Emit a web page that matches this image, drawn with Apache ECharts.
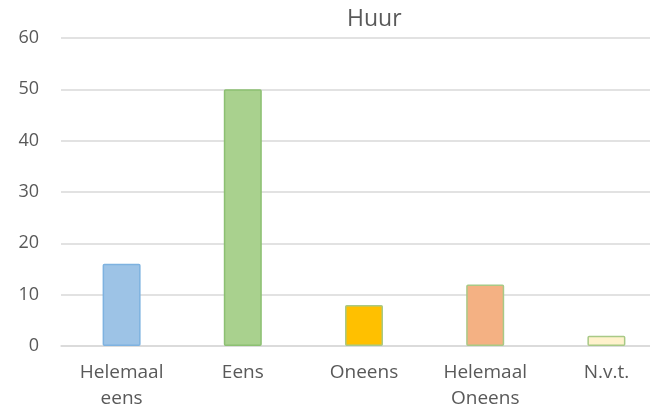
<!DOCTYPE html>
<html><head><meta charset="utf-8">
<script src="https://cdn.jsdelivr.net/npm/echarts@6/dist/echarts.min.js"></script>
<style>html,body{margin:0;padding:0;background:#fff}#c{width:650px;height:417px}</style>
</head><body><div id="c"></div>
<script>
const categories = ['Helemaal\neens', 'Eens', 'Oneens', 'Helemaal\nOneens', 'N.v.t.'];
const values = [16, 50, 8, 12, 2];
const fillColors = ['#9DC3E6', '#A9D18E', '#FFC000', '#F4B183', '#FFF2CC'];
const borderColors = ['#7EB2E0', '#8CC072', '#A8C986', '#A8C986', '#A8C986'];
const yTicks = {min: 0, max: 60, interval: 10};
const FONT = 'Open Sans';

const chart = echarts.init(document.getElementById('c'), null, {renderer: 'canvas'});
chart.setOption({
  animation: false,
  title: {
    text: 'Huur', left: 342, top: 3,
    textStyle: {fontFamily: FONT, fontSize: 23, fontWeight: 'normal', color: '#595959'}
  },
  grid: {left: 61, width: 606, top: 38, bottom: 71, outerBoundsMode: 'none', containLabel: false},
  xAxis: {
    type: 'category', data: categories,
    axisLine: {lineStyle: {color: '#d9d9d9', width: 1.5}},
    axisTick: {show: false},
    axisLabel: {fontFamily: FONT, fontSize: 19, color: '#595959', lineHeight: 26, margin: 14, interval: 0}
  },
  yAxis: {
    type: 'value', min: yTicks.min, max: yTicks.max, interval: yTicks.interval,
    axisLine: {show: false}, axisTick: {show: false},
    splitLine: {lineStyle: {color: '#d9d9d9', width: 1.5}},
    axisLabel: {fontFamily: FONT, fontSize: 18, color: '#595959', margin: 22}
  },
  series: [{
    type: 'bar', barWidth: 38,
    data: values.map((v, i) => ({value: v, itemStyle: {color: fillColors[i], borderColor: borderColors[i], borderWidth: 1.5, borderRadius: 1}}))
  }]
});
</script></body></html>
